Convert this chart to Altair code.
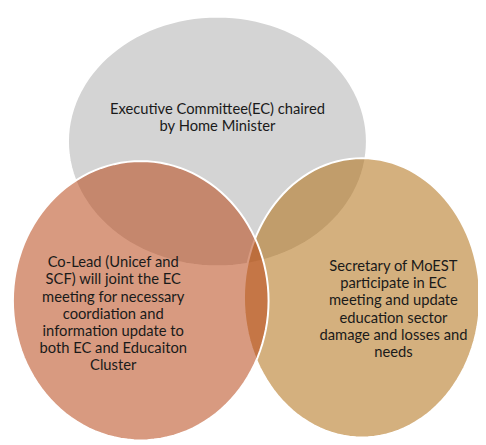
import altair as alt
import pandas as pd
import numpy as np

# Circle (ellipse) definitions in image pixel coordinates
names = ["EC", "MoEST", "CoLead"]
centers_x = [221, 368, 143]
centers_y = [140, 299, 302]
radii_x = [152, 120, 130]
radii_y = [127, 142, 142]
fills = ["#D4D4D4", "#B16F14", "#B84718"]
fill_opacity = [1.0, 0.55, 0.55]

labels = [
    "Executive Committee(EC) chaired\nby Home Minister",
    "Secretary of MoEST\nparticipate in EC\nmeeting and update\neducation sector\ndamage and losses and\nneeds",
    "Co-Lead (Unicef and\nSCF) will joint the EC\nmeeting for necessary\ncoordiation and\ninformation update to\nboth EC and Educaiton\nCluster",
]
label_x = [221, 400, 115]
label_y = [107, 267, 263]

W, H = 478, 437
xs = alt.Scale(domain=[8, 8 + W], zero=False, nice=False)
ys = alt.Scale(domain=[8 + H, 8], zero=False, nice=False)


def ellipse_path(rx, ry):
    m = max(rx, ry)
    t = np.linspace(0, 2 * np.pi, 121)[:-1]
    pts = [f"{np.cos(a) * rx / m:.4f},{np.sin(a) * ry / m:.4f}" for a in t]
    return "M" + " L".join(pts) + " Z", (2 * m) ** 2


layers = []
for i in range(3):
    df = pd.DataFrame({"cx": [centers_x[i]], "cy": [centers_y[i]]})
    path, size = ellipse_path(radii_x[i], radii_y[i])
    layers.append(
        alt.Chart(df)
        .mark_point(
            filled=True,
            fill=fills[i],
            fillOpacity=fill_opacity[i],
            stroke="white",
            strokeWidth=2,
            strokeOpacity=1,
            opacity=1,
            shape=path,
            size=size,
        )
        .encode(
            x=alt.X("cx:Q", scale=xs, axis=None),
            y=alt.Y("cy:Q", scale=ys, axis=None),
        )
    )

tdf = pd.DataFrame({"x": label_x, "y": label_y, "t": labels})
text = (
    alt.Chart(tdf)
    .mark_text(
        font="Lato",
        fontSize=15,
        lineHeight=17.4,
        lineBreak="\n",
        color="#1a1a1a",
        align="center",
        baseline="middle",
    )
    .encode(
        x=alt.X("x:Q", scale=xs, axis=None),
        y=alt.Y("y:Q", scale=ys, axis=None),
        text="t:N",
    )
)

chart = (
    alt.layer(*layers, text)
    .properties(width=W, height=H, padding=0, autosize=alt.AutoSizeParams(type="none"))
    .configure_view(strokeWidth=0)
)

chart.save("out.html", embed_options={"renderer": "svg", "actions": False})
